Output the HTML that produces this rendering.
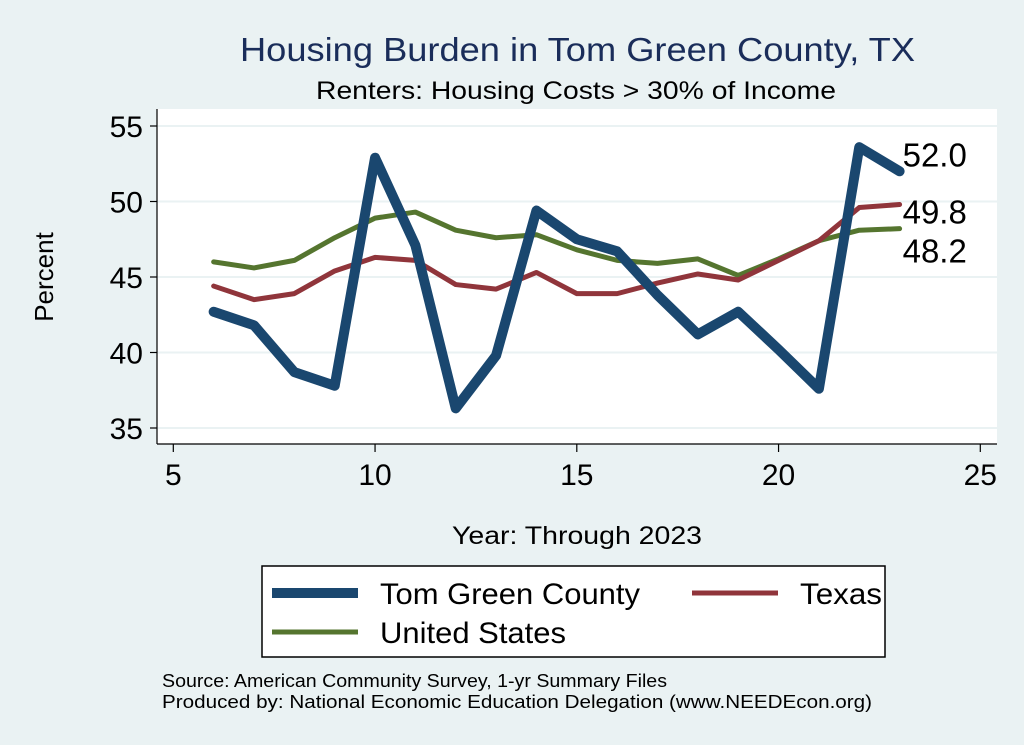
<!DOCTYPE html>
<html><head><meta charset="utf-8"><style>
body{margin:0;background:#eaf2f3;font-family:"Liberation Sans",sans-serif;}
svg{display:block}
</style></head><body>
<svg id="c" width="1024" height="745" xmlns="http://www.w3.org/2000/svg">
<rect x="0" y="0" width="1024" height="745" fill="#eaf2f3"/>
<rect x="157" y="109" width="840" height="335" fill="#fff"/>
<text x="240" y="61" font-size="33" fill="#1a2d5a" textLength="675" lengthAdjust="spacingAndGlyphs">Housing Burden in Tom Green County, TX</text>
<text x="316" y="99" font-size="25" fill="#000" textLength="520" lengthAdjust="spacingAndGlyphs">Renters: Housing Costs &gt; 30% of Income</text>
<text transform="translate(53,277) rotate(-90)" font-size="26" text-anchor="middle">Percent</text>
<text x="452" y="544" font-size="25" textLength="250" lengthAdjust="spacingAndGlyphs">Year: Through 2023</text>
<g id="grid"></g><g id="axes"></g><g id="series"></g>
<rect x="262" y="566" width="623" height="91" fill="#fff" stroke="#000" stroke-width="1.5"/>
<g><line x1="272" y1="593" x2="358" y2="593" stroke="#1a476f" stroke-width="10"/><text x="380" y="604" font-size="30" textLength="260" lengthAdjust="spacingAndGlyphs">Tom Green County</text></g>
<g><line x1="692" y1="593" x2="778" y2="593" stroke="#90353b" stroke-width="5"/><text x="800" y="604" font-size="30" textLength="82" lengthAdjust="spacingAndGlyphs">Texas</text></g>
<g><line x1="272" y1="632" x2="358" y2="632" stroke="#55752f" stroke-width="5"/><text x="380" y="643" font-size="30" textLength="186" lengthAdjust="spacingAndGlyphs">United States</text></g>
<text x="162" y="687" font-size="18" textLength="505" lengthAdjust="spacingAndGlyphs">Source: American Community Survey, 1-yr Summary Files</text>
<text x="162" y="708" font-size="18" textLength="710" lengthAdjust="spacingAndGlyphs">Produced by: National Economic Education Delegation (www.NEEDEcon.org)</text>
</svg>
<script>
const years=[6,7,8,9,10,11,12,13,14,15,16,17,18,19,20,21,22,23];
const tomGreen=[42.7,41.8,38.7,37.8,52.9,47.1,36.3,39.8,49.4,47.5,46.7,43.8,41.2,42.7,40.2,37.6,53.6,52.0];
const texas=[44.4,43.5,43.9,45.4,46.3,46.1,44.5,44.2,45.3,43.9,43.9,44.6,45.2,44.8,46.1,47.4,49.6,49.8];
const usa=[46.0,45.6,46.1,47.6,48.9,49.3,48.1,47.6,47.8,46.8,46.1,45.9,46.2,45.1,46.2,47.4,48.1,48.2];
const xTicks=[5,10,15,20,25];
const yTicks=[35,40,45,50,55];
const X=v=>173.3+(v-5)*40.35;
const Y=v=>428-(v-35)*15.1;
const NS="http://www.w3.org/2000/svg";
function mk(t,a,p){const e=document.createElementNS(NS,t);for(const k in a)e.setAttribute(k,a[k]);p.appendChild(e);return e;}
const grid=document.getElementById('grid'),axes=document.getElementById('axes'),ser=document.getElementById('series');
yTicks.forEach(v=>{
 const g=mk('line',{x1:157,x2:997,y1:Y(v),y2:Y(v),stroke:'#eaf2f3','stroke-width':2},grid);
 
 
 mk('line',{x1:150,x2:157,y1:Y(v),y2:Y(v),stroke:'#000','stroke-width':1.2},axes);
 const t=mk('text',{x:143,y:Y(v)+11,'font-size':30,'text-anchor':'end'},axes);t.textContent=v;
 
 
});
xTicks.forEach(v=>{
 mk('line',{x1:X(v),x2:X(v),y1:444,y2:452,stroke:'#000','stroke-width':1.2},axes);
 const t=mk('text',{x:X(v),y:485,'font-size':30,'text-anchor':'middle'},axes);t.textContent=v;
 
 
});
mk('line',{x1:157,x2:157,y1:109,y2:444,stroke:'#000','stroke-width':1.2},axes);
mk('line',{x1:157,x2:997,y1:444,y2:444,stroke:'#000','stroke-width':1.2},axes);
function line(d,c,w,name){
 const p=mk('polyline',{points:years.map((y,i)=>X(y)+','+Y(d[i])).join(' '),fill:'none',stroke:c,'stroke-width':w,'stroke-linejoin':'round','stroke-linecap':'round'},ser);
 
 
}
line(usa,'#55752f',5,'line-united-states');
line(texas,'#90353b',5,'line-texas');
line(tomGreen,'#1a476f',10,'line-tom-green-county');
const n=years.length-1;
const lx=X(years[n])+3;
[[tomGreen[n],Y(tomGreen[n])-5,'label-tom-green-last'],[texas[n],Y(texas[n])+19,'label-texas-last'],[usa[n],Y(usa[n])+34,'label-us-last']].forEach(([v,y,nm])=>{
 const t=mk('text',{x:lx,y:y,'font-size':33},ser);t.textContent=v.toFixed(1);
 
 
});
</script>
</body></html>
